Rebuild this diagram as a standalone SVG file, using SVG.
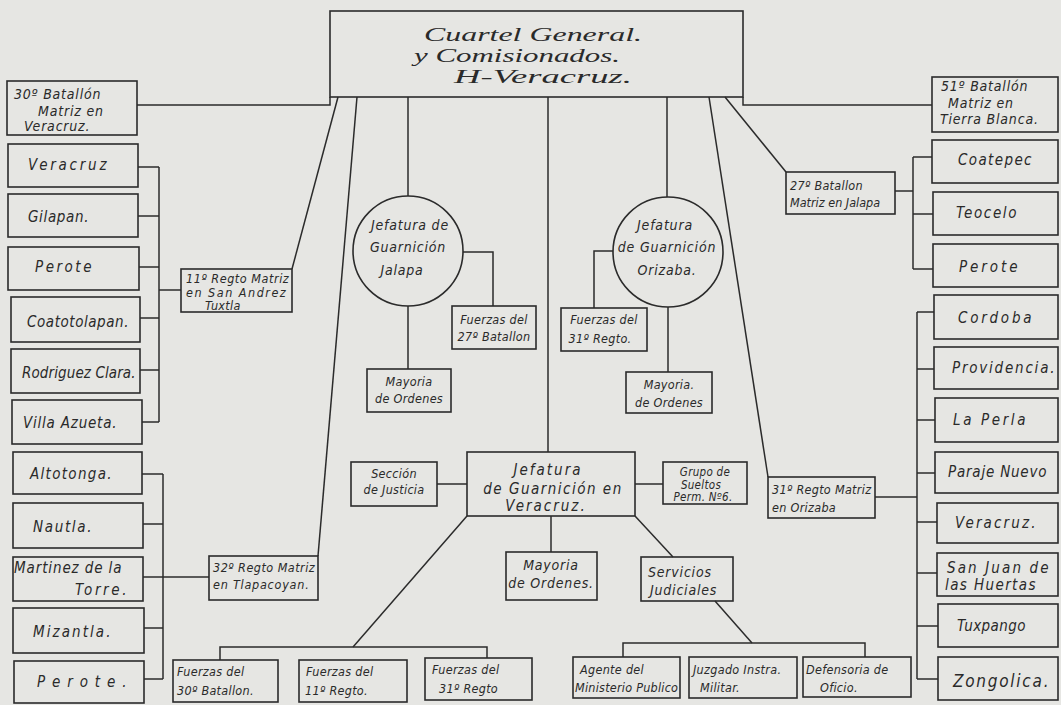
<svg xmlns="http://www.w3.org/2000/svg" width="1061" height="705" viewBox="0 0 1061 705">
<style>
.bg{fill:#e6e6e3}
.b{fill:none;stroke:#2b2b2b;stroke-width:1.6}
.c{fill:none;stroke:#2b2b2b;stroke-width:1.5}
text{font-family:"Liberation Sans Narrow","DejaVu Sans Condensed","Liberation Sans",sans-serif;font-style:italic;fill:#2a2a2a;font-size:14px;letter-spacing:0.8px}
.m{text-anchor:middle}
.s{font-size:12.5px;letter-spacing:0.3px}
.l{font-size:15px;letter-spacing:1.5px}
.h{font-family:"Liberation Serif","DejaVu Serif",serif;font-size:18px;letter-spacing:0}
</style>
<rect class="bg" x="0" y="0" width="1061" height="705"/>

<g id="connectors">
<polyline class="c" points="137,105 330,105 330,97"/>
<polyline class="c" points="743,97 743,105 932,105"/>
<line class="c" x1="338" y1="97" x2="292" y2="269"/>
<line class="c" x1="357" y1="97" x2="318" y2="556"/>
<line class="c" x1="408" y1="97" x2="408" y2="196"/>
<line class="c" x1="548" y1="97" x2="548" y2="452"/>
<line class="c" x1="667" y1="97" x2="667" y2="197"/>
<line class="c" x1="709" y1="97" x2="768" y2="477"/>
<line class="c" x1="725" y1="97" x2="786" y2="172"/>
<polyline class="c" points="463,252 493,252 493,306"/>
<line class="c" x1="408" y1="306" x2="408" y2="369"/>
<polyline class="c" points="613,251 594,251 594,308"/>
<line class="c" x1="668" y1="307" x2="668" y2="372"/>
<line class="c" x1="437" y1="484" x2="467" y2="484"/>
<line class="c" x1="635" y1="484" x2="663" y2="484"/>
<line class="c" x1="551" y1="516" x2="551" y2="552"/>
<line class="c" x1="635" y1="516" x2="673" y2="557"/>
<line class="c" x1="467" y1="516" x2="353" y2="647"/>
<polyline class="c" points="220,660 220,647 487,647 487,658"/>
<line class="c" x1="715" y1="601" x2="752" y2="643"/>
<polyline class="c" points="623,657 623,643 865,643 865,657"/>
<line class="c" x1="159" y1="167" x2="159" y2="422"/>
<line class="c" x1="138" y1="167" x2="159" y2="167"/>
<line class="c" x1="138" y1="216" x2="159" y2="216"/>
<line class="c" x1="139" y1="267" x2="159" y2="267"/>
<line class="c" x1="140" y1="318" x2="159" y2="318"/>
<line class="c" x1="140" y1="370" x2="159" y2="370"/>
<line class="c" x1="142" y1="422" x2="159" y2="422"/>
<line class="c" x1="159" y1="290" x2="181" y2="290"/>
<line class="c" x1="163" y1="474" x2="163" y2="679"/>
<line class="c" x1="142" y1="474" x2="163" y2="474"/>
<line class="c" x1="143" y1="524" x2="163" y2="524"/>
<line class="c" x1="143" y1="577" x2="209" y2="577"/>
<line class="c" x1="144" y1="628" x2="163" y2="628"/>
<line class="c" x1="144" y1="679" x2="163" y2="679"/>
<line class="c" x1="913" y1="157" x2="913" y2="269"/>
<line class="c" x1="913" y1="157" x2="932" y2="157"/>
<line class="c" x1="913" y1="214" x2="933" y2="214"/>
<line class="c" x1="913" y1="269" x2="933" y2="269"/>
<line class="c" x1="895" y1="191" x2="913" y2="191"/>
<line class="c" x1="917" y1="312" x2="917" y2="679"/>
<line class="c" x1="917" y1="312" x2="934" y2="312"/>
<line class="c" x1="917" y1="369" x2="934" y2="369"/>
<line class="c" x1="917" y1="420" x2="935" y2="420"/>
<line class="c" x1="917" y1="473" x2="935" y2="473"/>
<line class="c" x1="917" y1="522" x2="937" y2="522"/>
<line class="c" x1="917" y1="573" x2="937" y2="573"/>
<line class="c" x1="917" y1="626" x2="938" y2="626"/>
<line class="c" x1="917" y1="679" x2="938" y2="679"/>
<line class="c" x1="875" y1="497" x2="917" y2="497"/>
</g>

<g id="cuartel"><rect class="b" x="330" y="11" width="413" height="86"/>
<text class="h" x="424" y="41" textLength="218" lengthAdjust="spacingAndGlyphs">Cuartel General.</text>
<text class="h" x="414" y="62" textLength="206" lengthAdjust="spacingAndGlyphs">y Comisionados.</text>
<text class="h" x="454" y="83" textLength="178" lengthAdjust="spacingAndGlyphs">H-Veracruz.</text></g>

<g id="b30"><rect class="b" x="7" y="81" width="130" height="54"/>
<text x="14" y="99">30º Batallón</text><text x="38" y="116">Matriz en</text><text x="24" y="131">Veracruz.</text></g>
<g id="l-veracruz"><rect class="b" x="8" y="144" width="130" height="43"/><text class="l" x="28" y="170" textLength="80">Veracruz</text></g>
<g id="l-gilapan"><rect class="b" x="8" y="194" width="130" height="43"/><text class="l" x="28" y="222" textLength="62">Gilapan.</text></g>
<g id="l-perote1"><rect class="b" x="8" y="247" width="131" height="43"/><text class="l" x="35" y="272" textLength="58">Perote</text></g>
<g id="l-coatotolapan"><rect class="b" x="11" y="297" width="129" height="45"/><text class="l" x="27" y="327" textLength="103">Coatotolapan.</text></g>
<g id="l-rodriguez"><rect class="b" x="11" y="349" width="129" height="44"/><text class="l" x="22" y="378" textLength="115">Rodriguez Clara.</text></g>
<g id="l-villa"><rect class="b" x="12" y="400" width="130" height="44"/><text class="l" x="23" y="428" textLength="95">Villa Azueta.</text></g>
<g id="l-altotonga"><rect class="b" x="13" y="452" width="129" height="42"/><text class="l" x="30" y="479" textLength="83">Altotonga.</text></g>
<g id="l-nautla"><rect class="b" x="13" y="503" width="130" height="45"/><text class="l" x="33" y="532" textLength="60">Nautla.</text></g>
<g id="l-martinez"><rect class="b" x="13" y="557" width="130" height="44"/><text class="l" x="14" y="573" textLength="109">Martinez de la</text><text class="l" x="75" y="595" textLength="53">Torre.</text></g>
<g id="l-mizantla"><rect class="b" x="13" y="608" width="131" height="45"/><text class="l" x="33" y="637" textLength="79">Mizantla.</text></g>
<g id="l-perote2"><rect class="b" x="14" y="661" width="130" height="42"/><text class="l" x="37" y="687" textLength="91">Perote.</text></g>

<g id="r11"><rect class="b" x="181" y="269" width="111" height="43"/>
<text class="s" x="186" y="283" textLength="103">11º Regto Matriz</text><text class="s" x="186" y="297" textLength="100">en San Andrez</text><text class="s" x="205" y="310">Tuxtla</text></g>
<g id="r32"><rect class="b" x="209" y="556" width="109" height="44"/>
<text class="s" x="213" y="572" textLength="102">32º Regto Matriz</text><text class="s" x="213" y="589" textLength="96">en Tlapacoyan.</text></g>

<g id="jalapa"><circle class="b" cx="408" cy="251" r="55"/>
<text class="m" x="410" y="230">Jefatura de</text><text class="m" x="408" y="252">Guarnición</text><text class="m" x="402" y="275">Jalapa</text></g>
<g id="f27"><rect class="b" x="452" y="306" width="84" height="43"/><text class="s m" x="494" y="324">Fuerzas del</text><text class="s m" x="494" y="341">27º Batallon</text></g>
<g id="may1"><rect class="b" x="367" y="369" width="84" height="43"/><text class="s m" x="409" y="386">Mayoria</text><text class="s m" x="409" y="403">de Ordenes</text></g>

<g id="orizaba"><circle class="b" cx="668" cy="252" r="55"/>
<text class="m" x="665" y="230">Jefatura</text><text class="m" x="667" y="252">de Guarnición</text><text class="m" x="667" y="275">Orizaba.</text></g>
<g id="f31a"><rect class="b" x="561" y="308" width="86" height="43"/><text class="s m" x="604" y="324">Fuerzas del</text><text class="s m" x="600" y="343">31º Regto.</text></g>
<g id="may2"><rect class="b" x="626" y="372" width="86" height="41"/><text class="s m" x="669" y="389">Mayoria.</text><text class="s m" x="669" y="407">de Ordenes</text></g>

<g id="jverac"><rect class="b" x="467" y="452" width="168" height="64"/>
<text class="m" style="font-size:15px;letter-spacing:2px" x="548" y="475">Jefatura</text><text class="m" style="font-size:15px;letter-spacing:1.5px" x="553" y="494">de Guarnición en</text><text class="m" style="font-size:15px;letter-spacing:2px" x="546" y="511">Veracruz.</text></g>
<g id="seccion"><rect class="b" x="351" y="462" width="86" height="44"/><text class="s m" x="394" y="478">Sección</text><text class="s m" x="394" y="494">de Justicia</text></g>
<g id="grupo"><rect class="b" x="663" y="462" width="84" height="42"/><text class="s m" style="font-size:11.5px" x="705" y="476">Grupo de</text><text class="s m" style="font-size:11.5px" x="701" y="489">Sueltos</text><text class="s m" style="font-size:11.5px" x="703" y="501">Perm. Nº6.</text></g>
<g id="may3"><rect class="b" x="506" y="552" width="91" height="48"/><text class="m" x="551" y="570">Mayoria</text><text class="m" x="551" y="588">de Ordenes.</text></g>
<g id="servicios"><rect class="b" x="641" y="557" width="92" height="44"/><text x="648" y="577">Servicios</text><text x="650" y="595">Judiciales</text></g>

<g id="f30"><rect class="b" x="173" y="660" width="105" height="42"/><text class="s" x="177" y="676">Fuerzas del</text><text class="s" x="177" y="695">30º Batallon.</text></g>
<g id="f11"><rect class="b" x="299" y="660" width="108" height="42"/><text class="s" x="306" y="676">Fuerzas del</text><text class="s" x="305" y="695">11º Regto.</text></g>
<g id="f31b"><rect class="b" x="425" y="658" width="107" height="42"/><text class="s" x="432" y="674">Fuerzas del</text><text class="s" x="439" y="693">31º Regto</text></g>
<g id="agente"><rect class="b" x="573" y="657" width="107" height="41"/><text class="s" x="580" y="674">Agente del</text><text class="s" style="letter-spacing:0" x="575" y="692" textLength="103">Ministerio Publico</text></g>
<g id="juzgado"><rect class="b" x="689" y="657" width="108" height="41"/><text class="s" x="693" y="674">Juzgado Instra.</text><text class="s" x="700" y="692">Militar.</text></g>
<g id="defensoria"><rect class="b" x="803" y="657" width="108" height="40"/><text class="s" x="806" y="674">Defensoria de</text><text class="s" x="820" y="692">Oficio.</text></g>

<g id="b51"><rect class="b" x="932" y="77" width="126" height="55"/>
<text x="941" y="91">51º Batallón</text><text x="948" y="108">Matriz en</text><text x="940" y="124">Tierra Blanca.</text></g>
<g id="b27"><rect class="b" x="786" y="172" width="109" height="42"/><text class="s" x="790" y="190">27º Batallon</text><text class="s" style="letter-spacing:0" x="790" y="207">Matriz en Jalapa</text></g>
<g id="r-coatepec"><rect class="b" x="932" y="140" width="126" height="43"/><text class="l" x="958" y="165" textLength="75">Coatepec</text></g>
<g id="r-teocelo"><rect class="b" x="933" y="192" width="125" height="43"/><text class="l" x="956" y="218" textLength="62">Teocelo</text></g>
<g id="r-perote"><rect class="b" x="933" y="244" width="125" height="43"/><text class="l" x="959" y="272" textLength="60">Perote</text></g>
<g id="r31"><rect class="b" x="768" y="477" width="107" height="41"/><text class="s" x="772" y="494">31º Regto Matriz</text><text class="s" x="772" y="512">en Orizaba</text></g>
<g id="r-cordoba"><rect class="b" x="934" y="295" width="124" height="44"/><text class="l" x="958" y="323" textLength="75">Cordoba</text></g>
<g id="r-providencia"><rect class="b" x="934" y="347" width="124" height="42"/><text class="l" x="952" y="373" textLength="104">Providencia.</text></g>
<g id="r-perla"><rect class="b" x="935" y="398" width="123" height="44"/><text class="l" x="953" y="425" textLength="74">La Perla</text></g>
<g id="r-paraje"><rect class="b" x="935" y="452" width="123" height="41"/><text class="l" x="948" y="477" textLength="100">Paraje Nuevo</text></g>
<g id="r-veracruz"><rect class="b" x="937" y="503" width="121" height="40"/><text class="l" x="955" y="528" textLength="82">Veracruz.</text></g>
<g id="r-sanjuan"><rect class="b" x="937" y="553" width="121" height="43"/><text class="l" x="947" y="573" textLength="103">San Juan de</text><text class="l" x="945" y="590" textLength="92">las Huertas</text></g>
<g id="r-tuxpango"><rect class="b" x="938" y="604" width="120" height="43"/><text class="l" x="957" y="631" textLength="70">Tuxpango</text></g>
<g id="r-zongolica"><rect class="b" x="938" y="657" width="120" height="43"/><text class="l" x="953" y="687" textLength="97" style="font-size:17px">Zongolica.</text></g>
</svg>
